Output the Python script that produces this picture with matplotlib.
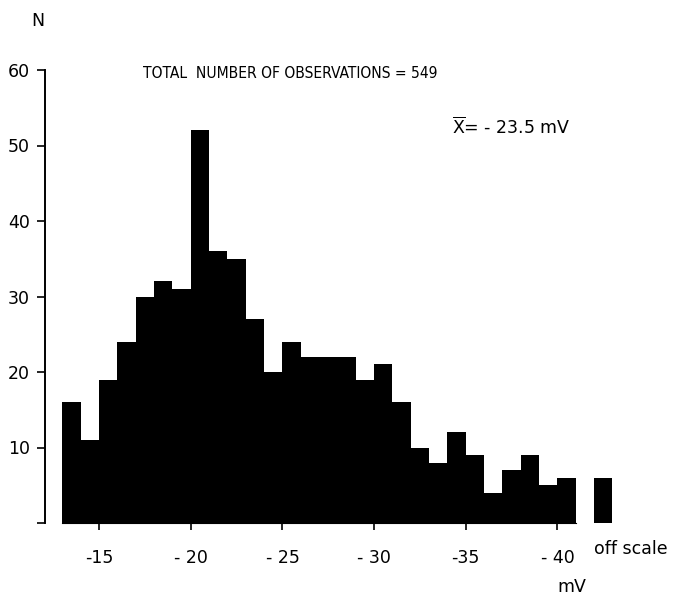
import numpy as np
import matplotlib
matplotlib.use('Agg')
import matplotlib.pyplot as plt

plt.rcParams['font.family'] = ['DejaVu Sans']
plt.rcParams['axes.unicode_minus'] = False

# histogram of membrane potentials, 1 mV bins from -13 to -41 mV
bin_start = np.arange(-13, -41, -1)
counts = [16, 11, 19, 24, 30, 32, 31, 52, 36, 35, 27, 20, 24, 22,
          22, 22, 19, 21, 16, 10, 8, 12, 9, 4, 7, 9, 5, 6]
off_scale_pos = -42
off_scale_count = 6

xticks = [-15, -20, -25, -30, -35, -40]
xticklabels = ['-15', '- 20', '- 25', '- 30', '-35', '- 40']
yticks = [0, 10, 20, 30, 40, 50, 60]
yticklabels = ['', '10', '20', '30', '40', '50', '60']

W, H = 676, 599
fig = plt.figure(figsize=(W / 100, H / 100), dpi=100)
ax = fig.add_axes([45 / W, 1 - 523 / H, 595 / W, 453 / H])

ax.bar(bin_start, counts, width=-1, align='edge', color='black', linewidth=0)
ax.bar(off_scale_pos, off_scale_count, width=-1, align='edge', color='black', linewidth=0)

ax.set_xlim(-12.05, -44.5)
ax.set_ylim(0, 60)

for s in ['top', 'right']:
    ax.spines[s].set_visible(False)
ax.spines['left'].set_bounds(0, 60)
ax.spines['left'].set_linewidth(1.4)
ax.spines['bottom'].set_bounds(-13, -41)
ax.spines['bottom'].set_linewidth(0.8)

ax.set_xticks(xticks)
ax.set_xticklabels(xticklabels, fontsize=12.5)
ax.set_yticks(yticks)
ax.set_yticklabels(yticklabels, fontsize=12.5)
ax.tick_params(axis='y', direction='out', length=6, width=1.2, pad=5)
ax.tick_params(axis='x', direction='out', length=5, width=1.2, pad=14)

ax.text(off_scale_pos, -26 / 453, 'off scale', transform=ax.get_xaxis_transform(),
        ha='left', va='center', fontsize=12.5)

fig.text(38 / W, 1 - 21 / H, 'N', ha='center', va='center', fontsize=12.5)
fig.text(143 / W, 1 - 73 / H, 'TOTAL  NUMBER OF OBSERVATIONS = 549',
         ha='left', va='center', fontsize=11.2, fontstretch='condensed')
fig.text(452 / W, 1 - 127 / H, r'$\overline{\mathrm{X}}$= - 23.5 mV',
         ha='left', va='center', fontsize=12.5)
fig.text(572 / W, 1 - 587 / H, 'mV', ha='center', va='center', fontsize=12.5)

fig.savefig('out.png', dpi=100)
